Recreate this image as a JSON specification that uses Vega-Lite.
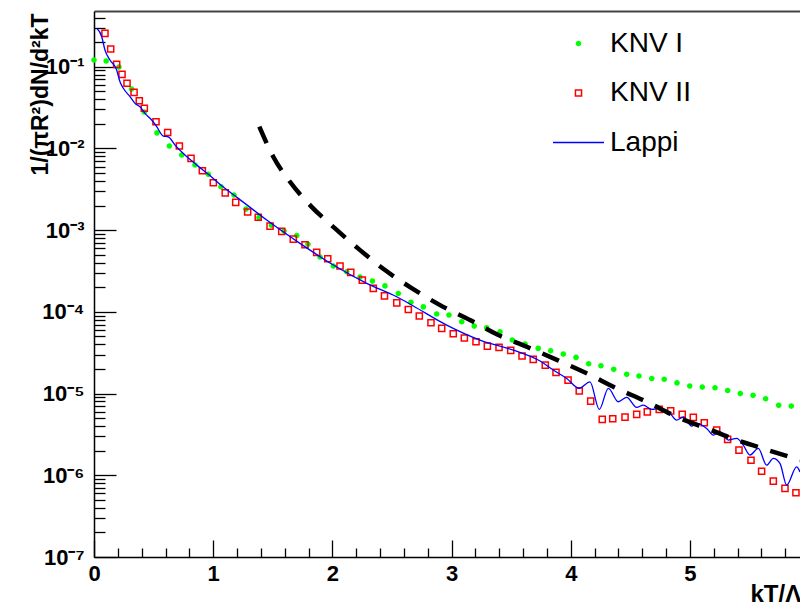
{
  "$schema": "https://vega.github.io/schema/vega-lite/v6.json",
  "width": 706,
  "height": 546,
  "autosize": {"type": "none"},
  "padding": {"left": 94, "top": 11, "right": 0, "bottom": 49},
  "background": "white",
  "config": {"view": {"stroke": null}, "font": "Liberation Sans",
    "legend": {"orient": "none", "legendX": 458, "legendY": 6, "title": null, "padding": 0, "rowPadding": 8.5,
      "labelFont": "Liberation Sans", "labelFontSize": 28, "labelColor": "black", "labelOffset": 5,
      "symbolSize": 2601, "symbolStrokeWidth": 1.5, "symbolOpacity": 1}},
  "datasets": {
    "knv1": [
      {"x":0.000,"y":0.121,"series":"KNV I"},{"x":0.102,"y":0.1175,"series":"KNV I"},{"x":0.209,"y":0.0991,"series":"KNV I"},
      {"x":0.315,"y":0.0533,"series":"KNV I"},{"x":0.422,"y":0.0279,"series":"KNV I"},{"x":0.528,"y":0.0155,"series":"KNV I"},
      {"x":0.632,"y":0.0107,"series":"KNV I"},{"x":0.736,"y":0.0083,"series":"KNV I"},{"x":0.847,"y":0.00627,"series":"KNV I"},
      {"x":0.959,"y":0.00482,"series":"KNV I"},{"x":1.065,"y":0.0034,"series":"KNV I"},{"x":1.174,"y":0.00269,"series":"KNV I"},
      {"x":1.275,"y":0.00181,"series":"KNV I"},{"x":1.384,"y":0.00143,"series":"KNV I"},{"x":1.489,"y":0.00115,"series":"KNV I"},
      {"x":1.594,"y":0.000975,"series":"KNV I"},{"x":1.701,"y":0.000859,"series":"KNV I"},{"x":1.795,"y":0.00067,"series":"KNV I"},
      {"x":1.896,"y":0.000469,"series":"KNV I"},{"x":2.008,"y":0.000364,"series":"KNV I"},{"x":2.120,"y":0.00031,"series":"KNV I"},
      {"x":2.232,"y":0.000267,"series":"KNV I"},{"x":2.336,"y":0.000238,"series":"KNV I"},{"x":2.441,"y":0.000208,"series":"KNV I"},
      {"x":2.553,"y":0.000168,"series":"KNV I"},{"x":2.659,"y":0.000131,"series":"KNV I"},{"x":2.763,"y":0.000115,"series":"KNV I"},
      {"x":2.875,"y":9.4e-5,"series":"KNV I"},{"x":2.978,"y":9.14e-5,"series":"KNV I"},{"x":3.085,"y":7.57e-5,"series":"KNV I"},
      {"x":3.190,"y":6.7e-5,"series":"KNV I"},{"x":3.294,"y":6.38e-5,"series":"KNV I"},{"x":3.406,"y":5.7e-5,"series":"KNV I"},
      {"x":3.509,"y":4.52e-5,"series":"KNV I"},{"x":3.616,"y":4.04e-5,"series":"KNV I"},{"x":3.727,"y":3.57e-5,"series":"KNV I"},
      {"x":3.831,"y":3.34e-5,"series":"KNV I"},{"x":3.937,"y":3.04e-5,"series":"KNV I"},{"x":4.044,"y":2.77e-5,"series":"KNV I"},
      {"x":4.150,"y":2.32e-5,"series":"KNV I"},{"x":4.253,"y":2.19e-5,"series":"KNV I"},{"x":4.360,"y":1.98e-5,"series":"KNV I"},
      {"x":4.469,"y":1.72e-5,"series":"KNV I"},{"x":4.572,"y":1.64e-5,"series":"KNV I"},{"x":4.679,"y":1.53e-5,"series":"KNV I"},
      {"x":4.784,"y":1.5e-5,"series":"KNV I"},{"x":4.891,"y":1.35e-5,"series":"KNV I"},{"x":4.998,"y":1.24e-5,"series":"KNV I"},
      {"x":5.103,"y":1.2e-5,"series":"KNV I"},{"x":5.210,"y":1.18e-5,"series":"KNV I"},{"x":5.316,"y":1.09e-5,"series":"KNV I"},
      {"x":5.422,"y":1.0e-5,"series":"KNV I"},{"x":5.529,"y":9.51e-6,"series":"KNV I"},{"x":5.635,"y":8.63e-6,"series":"KNV I"},
      {"x":5.744,"y":7.18e-6,"series":"KNV I"},{"x":5.850,"y":7.03e-6,"series":"KNV I"}
    ],
    "knv2": [
      {"x":0.092,"y":0.256,"series":"KNV II"},{"x":0.140,"y":0.165,"series":"KNV II"},{"x":0.190,"y":0.107,"series":"KNV II"},
      {"x":0.235,"y":0.0807,"series":"KNV II"},{"x":0.277,"y":0.0627,"series":"KNV II"},{"x":0.336,"y":0.0486,"series":"KNV II"},
      {"x":0.380,"y":0.0384,"series":"KNV II"},{"x":0.422,"y":0.031,"series":"KNV II"},{"x":0.520,"y":0.0212,"series":"KNV II"},
      {"x":0.618,"y":0.0157,"series":"KNV II"},{"x":0.716,"y":0.0107,"series":"KNV II"},{"x":0.814,"y":0.00757,"series":"KNV II"},
      {"x":0.909,"y":0.00533,"series":"KNV II"},{"x":1.001,"y":0.0038,"series":"KNV II"},{"x":1.101,"y":0.00286,"series":"KNV II"},
      {"x":1.189,"y":0.00219,"series":"KNV II"},{"x":1.289,"y":0.00167,"series":"KNV II"},{"x":1.378,"y":0.00144,"series":"KNV II"},
      {"x":1.477,"y":0.00112,"series":"KNV II"},{"x":1.575,"y":0.000966,"series":"KNV II"},{"x":1.672,"y":0.000778,"series":"KNV II"},
      {"x":1.770,"y":0.000662,"series":"KNV II"},{"x":1.868,"y":0.000535,"series":"KNV II"},{"x":1.961,"y":0.000447,"series":"KNV II"},
      {"x":2.064,"y":0.000364,"series":"KNV II"},{"x":2.154,"y":0.000304,"series":"KNV II"},{"x":2.251,"y":0.000245,"series":"KNV II"},
      {"x":2.343,"y":0.000194,"series":"KNV II"},{"x":2.437,"y":0.000157,"series":"KNV II"},{"x":2.540,"y":0.000129,"series":"KNV II"},
      {"x":2.637,"y":0.000107,"series":"KNV II"},{"x":2.729,"y":8.89e-5,"series":"KNV II"},{"x":2.827,"y":7.36e-5,"series":"KNV II"},
      {"x":2.917,"y":6.28e-5,"series":"KNV II"},{"x":3.014,"y":5.4e-5,"series":"KNV II"},{"x":3.107,"y":4.78e-5,"series":"KNV II"},
      {"x":3.205,"y":4.31e-5,"series":"KNV II"},{"x":3.300,"y":3.81e-5,"series":"KNV II"},{"x":3.398,"y":3.68e-5,"series":"KNV II"},
      {"x":3.496,"y":3.38e-5,"series":"KNV II"},{"x":3.591,"y":2.88e-5,"series":"KNV II"},{"x":3.685,"y":2.62e-5,"series":"KNV II"},
      {"x":3.786,"y":2.23e-5,"series":"KNV II"},{"x":3.876,"y":1.82e-5,"series":"KNV II"},{"x":3.977,"y":1.46e-5,"series":"KNV II"},
      {"x":4.071,"y":1.08e-5,"series":"KNV II"},{"x":4.167,"y":8.09e-6,"series":"KNV II"},{"x":4.264,"y":4.83e-6,"series":"KNV II"},
      {"x":4.352,"y":4.92e-6,"series":"KNV II"},{"x":4.455,"y":5.15e-6,"series":"KNV II"},{"x":4.553,"y":5.56e-6,"series":"KNV II"},
      {"x":4.642,"y":5.98e-6,"series":"KNV II"},{"x":4.742,"y":6.41e-6,"series":"KNV II"},{"x":4.838,"y":6.15e-6,"series":"KNV II"},
      {"x":4.935,"y":5.56e-6,"series":"KNV II"},{"x":5.028,"y":5.12e-6,"series":"KNV II"},{"x":5.120,"y":4.4e-6,"series":"KNV II"},
      {"x":5.224,"y":3.57e-6,"series":"KNV II"},{"x":5.316,"y":2.75e-6,"series":"KNV II"},{"x":5.411,"y":2.03e-6,"series":"KNV II"},
      {"x":5.512,"y":1.53e-6,"series":"KNV II"},{"x":5.601,"y":1.12e-6,"series":"KNV II"},{"x":5.699,"y":8.49e-7,"series":"KNV II"},
      {"x":5.797,"y":6.92e-7,"series":"KNV II"},{"x":5.889,"y":6.11e-7,"series":"KNV II"}
    ],
    "lappi": [
      {"x":0.023,"y":0.295,"series":"Lappi"},{"x":0.065,"y":0.233,"series":"Lappi"},{"x":0.092,"y":0.16,"series":"Lappi"},
      {"x":0.134,"y":0.121,"series":"Lappi"},{"x":0.190,"y":0.0912,"series":"Lappi"},{"x":0.218,"y":0.0655,"series":"Lappi"},
      {"x":0.246,"y":0.0545,"series":"Lappi"},{"x":0.302,"y":0.043,"series":"Lappi"},{"x":0.344,"y":0.0356,"series":"Lappi"},
      {"x":0.386,"y":0.0324,"series":"Lappi"},{"x":0.428,"y":0.0269,"series":"Lappi"},{"x":0.484,"y":0.0223,"series":"Lappi"},
      {"x":0.526,"y":0.0185,"series":"Lappi"},{"x":0.581,"y":0.0142,"series":"Lappi"},{"x":0.623,"y":0.0139,"series":"Lappi"},
      {"x":0.680,"y":0.011,"series":"Lappi"},{"x":0.763,"y":0.0083,"series":"Lappi"},{"x":0.862,"y":0.00627,"series":"Lappi"},
      {"x":0.959,"y":0.00482,"series":"Lappi"},{"x":1.071,"y":0.00349,"series":"Lappi"},{"x":1.211,"y":0.00245,"series":"Lappi"},
      {"x":1.449,"y":0.00133,"series":"Lappi"},{"x":1.728,"y":0.000689,"series":"Lappi"},{"x":2.008,"y":0.000374,"series":"Lappi"},
      {"x":2.288,"y":0.000223,"series":"Lappi"},{"x":2.539,"y":0.000153,"series":"Lappi"},{"x":2.679,"y":0.000118,"series":"Lappi"},
      {"x":2.959,"y":6.89e-5,"series":"Lappi"},{"x":3.238,"y":4.52e-5,"series":"Lappi"},{"x":3.518,"y":3.4e-5,"series":"Lappi"},
      {"x":3.742,"y":2.5e-5,"series":"Lappi"},{"x":3.853,"y":1.94e-5,"series":"Lappi"},{"x":3.966,"y":1.53e-5,"series":"Lappi"},
      {"x":4.071,"y":1.16e-5,"series":"Lappi"},{"x":4.161,"y":1.39e-5,"series":"Lappi"},{"x":4.239,"y":6.41e-6,"series":"Lappi"},
      {"x":4.315,"y":1.16e-5,"series":"Lappi"},{"x":4.398,"y":7.94e-6,"series":"Lappi"},{"x":4.469,"y":8.98e-6,"series":"Lappi"},
      {"x":4.553,"y":6.78e-6,"series":"Lappi"},{"x":4.608,"y":7.23e-6,"series":"Lappi"},{"x":4.679,"y":6.41e-6,"series":"Lappi"},
      {"x":4.748,"y":6.59e-6,"series":"Lappi"},{"x":4.832,"y":5.73e-6,"series":"Lappi"},{"x":4.888,"y":4.74e-6,"series":"Lappi"},
      {"x":4.944,"y":5.2e-6,"series":"Lappi"},{"x":5.014,"y":4.0e-6,"series":"Lappi"},{"x":5.056,"y":4.32e-6,"series":"Lappi"},
      {"x":5.140,"y":3.75e-6,"series":"Lappi"},{"x":5.196,"y":3.1e-6,"series":"Lappi"},{"x":5.252,"y":3.4e-6,"series":"Lappi"},
      {"x":5.321,"y":2.7e-6,"series":"Lappi"},{"x":5.392,"y":2.83e-6,"series":"Lappi"},{"x":5.447,"y":2.34e-6,"series":"Lappi"},
      {"x":5.503,"y":1.77e-6,"series":"Lappi"},{"x":5.573,"y":2.13e-6,"series":"Lappi"},{"x":5.643,"y":1.33e-6,"series":"Lappi"},
      {"x":5.699,"y":1.61e-6,"series":"Lappi"},{"x":5.755,"y":1.4e-6,"series":"Lappi"},{"x":5.811,"y":7.59e-7,"series":"Lappi"},
      {"x":5.895,"y":1.27e-6,"series":"Lappi"},{"x":5.923,"y":1.1e-6,"series":"Lappi"}
    ],
    "analytic": [
      {"x":1.387,"y":0.0185},{"x":1.504,"y":0.00791},{"x":1.644,"y":0.00391},{"x":1.826,"y":0.00193},
      {"x":2.022,"y":0.00105},{"x":2.232,"y":0.00057},{"x":2.441,"y":0.000325},{"x":2.668,"y":0.000194},
      {"x":2.903,"y":0.000121},{"x":3.154,"y":7.94e-5},{"x":3.392,"y":5.2e-5},{"x":3.630,"y":3.74e-5},
      {"x":3.888,"y":2.57e-5},{"x":4.133,"y":1.77e-5},{"x":4.385,"y":1.16e-5},{"x":4.637,"y":7.94e-6},
      {"x":4.888,"y":5.2e-6},{"x":5.140,"y":3.75e-6},{"x":5.392,"y":2.7e-6},{"x":5.657,"y":2.03e-6},
      {"x":5.923,"y":1.53e-6}
    ]
  },
  "resolve": {"axis": {"x": "independent", "y": "independent"}},
  "layer": [
    {
      "data": {"name": "knv1"},
      "mark": {"type": "point", "filled": true, "strokeWidth": 1.5, "opacity": 1, "size": 2601},
      "encoding": {
        "x": {"field": "x", "type": "quantitative", "scale": {"domain": [0, 5.923], "nice": false, "zero": false},
          "axis": {"orient": "bottom", "values": [0,1,2,3,4,5], "tickSize": -17, "tickWidth": 1.3, "tickColor": "black",
            "domainColor": "black", "domainWidth": 1.5, "grid": false, "labelFlush": false, "labelOverlap": false,
            "labelFont": "Liberation Sans", "labelFontSize": 22, "labelFontWeight": "bold", "labelColor": "black", "labelPadding": 23,
            "format": "d",
            "title": "kT/Λs", "titleFont": "Liberation Sans", "titleFontSize": 24, "titleFontWeight": "bold", "titleColor": "black",
            "titleAnchor": null, "titleAlign": "left", "titleBaseline": "alphabetic", "titleX": 656, "titleY": 44}},
        "y": {"field": "y", "type": "quantitative", "scale": {"type": "log", "domain": [1e-7, 0.481], "nice": false},
          "axis": {"orient": "left", "values": [1e-7,1e-6,1e-5,1e-4,1e-3,1e-2,1e-1], "tickSize": -22, "tickWidth": 1.3, "tickColor": "black",
            "domainColor": "black", "domainWidth": 1.5, "grid": false, "labelFlush": false, "labelOverlap": false,
            "labelFont": "Liberation Sans", "labelFontSize": 22, "labelFontWeight": "bold", "labelColor": "black", "labelPadding": 32,
            "labelExpr": "'10' + ['⁰','⁻¹','⁻²','⁻³','⁻⁴','⁻⁵','⁻⁶','⁻⁷'][round(-log(datum.value)/LN10)]",
            "title": "1/(πR²)dN/d²kT", "titleFont": "Liberation Sans", "titleFontSize": 23, "titleFontWeight": "bold", "titleColor": "black",
            "titleAngle": -90, "titleAnchor": null, "titleAlign": "right", "titleBaseline": "alphabetic", "titleX": -47, "titleY": 2}},
        "fill": {"field": "series", "type": "nominal",
          "scale": {"domain": ["KNV I", "KNV II", "Lappi"], "range": ["#00ff00", "transparent", "transparent"]}},
        "stroke": {"field": "series", "type": "nominal",
          "scale": {"domain": ["KNV I", "KNV II", "Lappi"], "range": ["transparent", "#ff0000", "#0000ff"]}},
        "shape": {"field": "series", "type": "nominal",
          "scale": {"domain": ["KNV I", "KNV II", "Lappi"], "range": [
            "M0.11,0 C0.11,0.0608 0.0608,0.11 0,0.11 C-0.0608,0.11 -0.11,0.0608 -0.11,0 C-0.11,-0.0608 -0.0608,-0.11 0,-0.11 C0.0608,-0.11 0.11,-0.0608 0.11,0 Z",
            "M-0.12,-0.12 L0.12,-0.12 L0.12,0.12 L-0.12,0.12 Z",
            "stroke"]}}
      }
    },
    {
      "data": {"name": "knv2"},
      "mark": {"type": "point", "filled": true, "strokeWidth": 1.5, "opacity": 1, "size": 2601},
      "encoding": {
        "x": {"field": "x", "type": "quantitative",
          "axis": {"orient": "bottom", "values": [0.2,0.4,0.6,0.8,1.2,1.4,1.6,1.8,2.2,2.4,2.6,2.8,3.2,3.4,3.6,3.8,4.2,4.4,4.6,4.8,5.2,5.4,5.6,5.8],
            "tickSize": -9, "tickWidth": 1.3, "tickColor": "black", "domain": false, "labels": false, "grid": false, "title": null}},
        "y": {"field": "y", "type": "quantitative",
          "axis": {"orient": "left", "values": [2e-7,3e-7,4e-7,5e-7,6e-7,7e-7,8e-7,9e-7,2e-6,3e-6,4e-6,5e-6,6e-6,7e-6,8e-6,9e-6,2e-5,3e-5,4e-5,5e-5,6e-5,7e-5,8e-5,9e-5,2e-4,3e-4,4e-4,5e-4,6e-4,7e-4,8e-4,9e-4,0.002,0.003,0.004,0.005,0.006,0.007,0.008,0.009,0.02,0.03,0.04,0.05,0.06,0.07,0.08,0.09,0.2,0.3,0.4],
            "tickSize": -11, "tickWidth": 1.3, "tickColor": "black", "domain": false, "labels": false, "grid": false, "title": null}},
        "fill": {"field": "series", "type": "nominal"},
        "stroke": {"field": "series", "type": "nominal"},
        "shape": {"field": "series", "type": "nominal"}
      }
    },
    {
      "data": {"name": "lappi"},
      "mark": {"type": "line", "strokeWidth": 1.3, "interpolate": "monotone"},
      "encoding": {
        "x": {"field": "x", "type": "quantitative",
          "axis": {"orient": "top", "ticks": false, "labels": false, "grid": false, "title": null, "domainColor": "#444444", "domainWidth": 2}},
        "y": {"field": "y", "type": "quantitative", "axis": null},
        "stroke": {"field": "series", "type": "nominal"}
      }
    },
    {
      "data": {"name": "analytic"},
      "mark": {"type": "line", "color": "black", "strokeWidth": 4.5, "strokeDash": [18, 13], "strokeCap": "butt", "interpolate": "monotone"},
      "encoding": {
        "x": {"field": "x", "type": "quantitative", "axis": null},
        "y": {"field": "y", "type": "quantitative", "axis": null}
      }
    }
  ]
}
